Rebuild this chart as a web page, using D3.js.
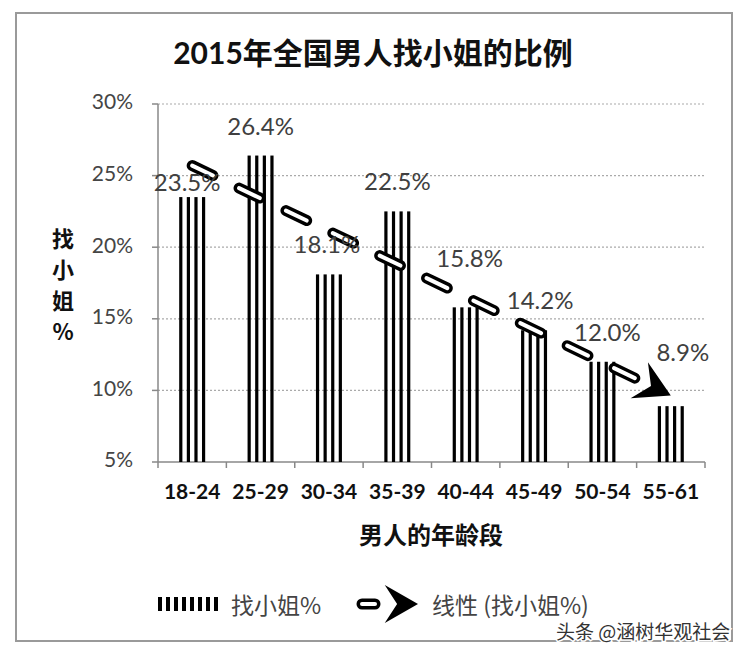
<!DOCTYPE html>
<html>
<head>
<meta charset="utf-8">
<script src="https://cdn.jsdelivr.net/npm/d3@7"></script>
<style>
  body { margin: 0; background: #fff; }
  text { font-family: Lato, "Noto Sans CJK SC", sans-serif; }
</style>
</head>
<body>
<div id="chart"></div>
<script>
// data
const categories = ["18-24", "25-29", "30-34", "35-39", "40-44", "45-49", "50-54", "55-61"];
const values = [23.5, 26.4, 18.1, 22.5, 15.8, 14.2, 12.0, 8.9];
const yTicks = [5, 10, 15, 20, 25, 30];
// manual label nudges (as in the original chart)
const labelDx = [-5, 0, -2, 0, 4, 6, 5, 12];
const labelDy = [15, 0, 0, 0, -19, 0, 0, -24];

const width = 750, height = 656;
const plotL = 158, plotR = 705, plotT = 104, plotB = 462;
const cjk = '"Noto Sans CJK SC", sans-serif';

const svg = d3.select('#chart').append('svg')
  .attr('width', width).attr('height', height);

// frame
svg.append('rect')
  .attr('x', 16).attr('y', 13).attr('width', 716).attr('height', 628)
  .attr('fill', '#fff').attr('stroke', '#9a9a9a').attr('stroke-width', 2);

const x = d3.scaleBand().domain(categories).range([plotL, plotR]);
const y = d3.scaleLinear().domain([5, 30]).range([plotB, plotT]);
const cx = c => x(c) + x.bandwidth() / 2;

// gridlines
svg.selectAll('.grid').data(yTicks.filter(t => t > 5)).enter().append('line')
  .attr('x1', plotL).attr('x2', plotR)
  .attr('y1', d => y(d)).attr('y2', d => y(d))
  .attr('stroke', '#aaa').attr('stroke-width', 1.2).attr('stroke-dasharray', '2 2');

// axes
svg.append('line').attr('x1', plotL).attr('x2', plotL).attr('y1', plotT).attr('y2', plotB)
  .attr('stroke', '#888').attr('stroke-width', 1.5);
svg.append('line').attr('x1', plotL).attr('x2', plotR).attr('y1', plotB).attr('y2', plotB)
  .attr('stroke', '#888').attr('stroke-width', 1.5);
svg.selectAll('.ytick').data(yTicks).enter().append('line')
  .attr('x1', plotL - 6).attr('x2', plotL)
  .attr('y1', d => y(d)).attr('y2', d => y(d))
  .attr('stroke', '#888').attr('stroke-width', 1.5);
svg.selectAll('.xtick').data(categories.concat(['end'])).enter().append('line')
  .attr('x1', (d, i) => plotL + i * x.step()).attr('x2', (d, i) => plotL + i * x.step())
  .attr('y1', plotB).attr('y2', plotB + 6)
  .attr('stroke', '#888').attr('stroke-width', 1.5);

// y tick labels
svg.selectAll('.ylab').data(yTicks).enter().append('text')
  .attr('x', 133).attr('y', d => y(d))
  .attr('text-anchor', 'end').attr('dominant-baseline', 'middle')
  .attr('font-size', 21).attr('fill', '#454545')
  .text(d => d + '%');

// x category labels
svg.selectAll('.xlab').data(categories).enter().append('text')
  .attr('x', d => cx(d)).attr('y', 494)
  .attr('text-anchor', 'middle').attr('dominant-baseline', 'middle')
  .attr('font-size', 21).attr('font-weight', 'bold')
  .attr('fill', '#111')
  .text(d => d);

// bars: 4 vertical stripes each
const stripeW = 3.2, stripeGap = 7.6, nStripes = 4;
const barW = (nStripes - 1) * stripeGap + stripeW;
const bars = svg.selectAll('.bar').data(values).enter().append('g');
bars.selectAll('rect').data((d, i) => d3.range(nStripes).map(k => ({ v: d, c: categories[i], k })))
  .enter().append('rect')
  .attr('x', s => cx(s.c) - barW / 2 + s.k * stripeGap)
  .attr('y', s => y(s.v))
  .attr('width', stripeW)
  .attr('height', s => plotB - y(s.v))
  .attr('fill', '#000');

// linear trendline (least squares over category index)
const n = values.length;
const xs = d3.range(1, n + 1);
const mx = d3.mean(xs), my = d3.mean(values);
const slope = d3.sum(xs, (xi, i) => (xi - mx) * (values[i] - my)) / d3.sum(xs, xi => (xi - mx) ** 2);
const icpt = my - slope * mx;
const x1 = cx(categories[0]), y1 = y(icpt + slope * 1);
const x2 = cx(categories[n - 1]), y2 = y(icpt + slope * n);
const ang = Math.atan2(y2 - y1, x2 - x1);
const ux = Math.cos(ang), uy = Math.sin(ang);
const notch = 22;
const trendPath = `M${x1},${y1}L${x2 - ux * notch},${y2 - uy * notch}`;
svg.append('path').attr('d', trendPath)
  .attr('stroke', '#000').attr('stroke-width', 11).attr('fill', 'none')
  .attr('stroke-linecap', 'round').attr('stroke-dasharray', '23 29');
svg.append('path').attr('d', trendPath)
  .attr('stroke', '#fff').attr('stroke-width', 4).attr('fill', 'none')
  .attr('stroke-linecap', 'round').attr('stroke-dasharray', '23 29');
const arrowShape = 'M0,0L-35,-20L-22,0L-35,20Z';
svg.append('path').attr('d', arrowShape)
  .attr('transform', `translate(${x2},${y2}) rotate(${ang * 180 / Math.PI})`)
  .attr('fill', '#000');

// data labels
svg.selectAll('.vlab').data(values).enter().append('text')
  .attr('x', (d, i) => cx(categories[i]) + labelDx[i])
  .attr('y', (d, i) => y(d) - 27 + labelDy[i])
  .attr('text-anchor', 'middle').attr('dominant-baseline', 'middle')
  .attr('font-size', 24).attr('fill', '#404040')
  .text(d => d.toFixed(1) + '%');

// title
svg.append('text').attr('x', 373).attr('y', 52).attr('text-anchor', 'middle')
  .attr('dominant-baseline', 'central')
  .attr('font-size', 30).attr('font-weight', 'bold').attr('fill', '#111')
  .text('2015年全国男人找小姐的比例');

// y title (stacked characters)
svg.selectAll('.ytitle').data(['找', '小', '姐', '%']).enter().append('text')
  .attr('x', 63).attr('y', (d, i) => 237 + i * 31)
  .attr('text-anchor', 'middle').attr('dominant-baseline', 'central')
  .attr('font-size', 22).attr('font-weight', 'bold').attr('fill', '#111')
  .style('font-family', cjk)
  .text(d => d);

// x title
svg.append('text').attr('x', 431).attr('y', 533).attr('text-anchor', 'middle')
  .attr('dominant-baseline', 'central')
  .attr('font-size', 24).attr('font-weight', 'bold').attr('fill', '#111')
  .style('font-family', cjk)
  .text('男人的年龄段');

// legend
const legY = 604;
svg.selectAll('.legstripe').data(d3.range(8)).enter().append('rect')
  .attr('x', d => 158 + d * 8).attr('y', legY - 7).attr('width', 4).attr('height', 14)
  .attr('fill', '#000');
svg.append('text').attr('x', 231).attr('y', legY).attr('dominant-baseline', 'central')
  .attr('font-size', 23).attr('fill', '#444').style('font-family', cjk)
  .text('找小姐%');
svg.append('line').attr('x1', 362).attr('x2', 375).attr('y1', legY).attr('y2', legY)
  .attr('stroke', '#000').attr('stroke-width', 11).attr('stroke-linecap', 'round');
svg.append('line').attr('x1', 362).attr('x2', 375).attr('y1', legY).attr('y2', legY)
  .attr('stroke', '#fff').attr('stroke-width', 4).attr('stroke-linecap', 'round');
svg.append('path').attr('d', arrowShape)
  .attr('transform', `translate(418,${legY}) scale(0.95)`).attr('fill', '#000');
svg.append('circle').attr('cx', 393).attr('cy', legY).attr('r', 2).attr('fill', '#fff');
svg.append('text').attr('x', 432).attr('y', legY).attr('dominant-baseline', 'central')
  .attr('font-size', 23).attr('fill', '#444').style('font-family', cjk)
  .text('线性 (找小姐%)');

// watermark
svg.append('text').attr('x', 556).attr('y', 630).attr('dominant-baseline', 'central')
  .attr('font-size', 19).attr('fill', '#333')
  .attr('stroke', '#fff').attr('stroke-width', 3).attr('paint-order', 'stroke')
  .style('font-family', cjk)
  .text('头条 @涵树华观社会');
</script>
</body>
</html>
